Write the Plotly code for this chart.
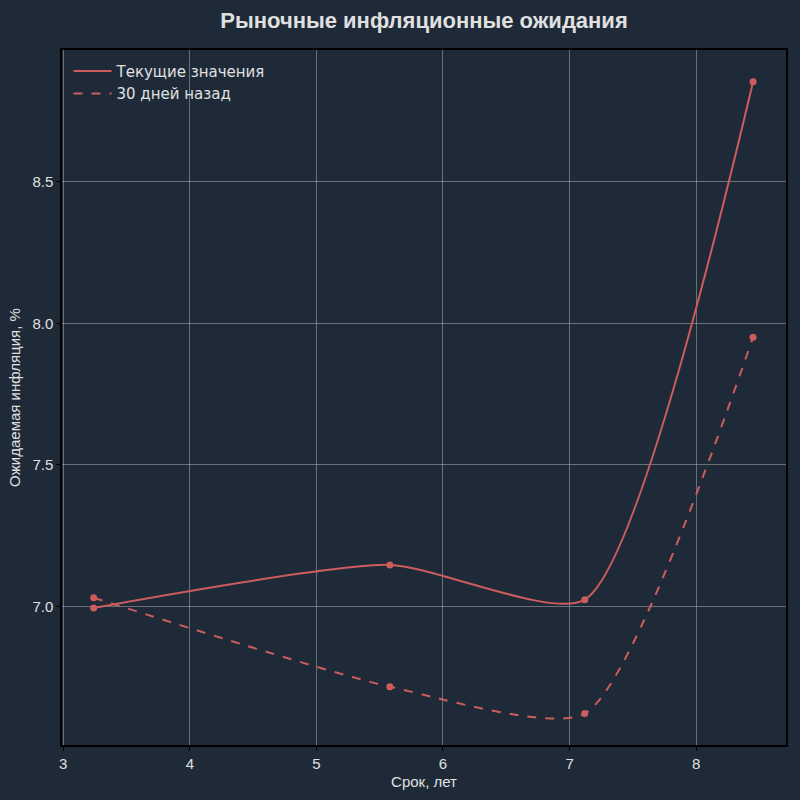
import plotly.graph_objects as go

terms = [3.24, 5.58, 7.12, 8.45]
current_vals = [6.995, 7.147, 7.024, 8.853]
past_vals = [7.031, 6.717, 6.622, 7.951]
series_names = ["Текущие значения", "30 дней назад"]

line_color = "#cd5c5c"
bg = "#1e2a38"
text_color = "#e0e0e0"

fig = go.Figure()
for vals, name, dash in [(current_vals, series_names[0], "solid"),
                         (past_vals, series_names[1], "dash")]:
    fig.add_trace(go.Scatter(
        x=terms, y=vals, name=name, mode="lines",
        line=dict(color=line_color, width=2, shape="spline", smoothing=0.6, dash=dash),
    ))
for vals in [current_vals, past_vals]:
    fig.add_trace(go.Scatter(
        x=terms, y=vals, mode="markers", showlegend=False, hoverinfo="skip",
        marker=dict(size=7, color=line_color),
    ))

axis_common = dict(
    showline=True, linecolor="#000000", linewidth=1.5, mirror=True,
    showgrid=True, gridcolor="rgba(160,160,160,0.6)", gridwidth=1,
    ticks="outside", ticklen=4, tickcolor="#000000",
    tickfont=dict(size=15, color=text_color), zeroline=False,
)

fig.update_layout(
    width=800, height=800,
    paper_bgcolor=bg, plot_bgcolor=bg,
    font=dict(family="Liberation Sans, Arial, sans-serif", color=text_color),
    title=dict(text="<b>Рыночные инфляционные ожидания</b>", x=0.5, xref="paper",
               xanchor="center", y=0.975, yanchor="middle",
               font=dict(size=22, color=text_color)),
    margin=dict(l=62, r=12, t=50, b=53),
    showlegend=True,
    legend=dict(x=0.009, y=0.993, xanchor="left", yanchor="top",
                bgcolor="rgba(0,0,0,0)", itemwidth=38,
                font=dict(family="DejaVu Sans", size=15, color=text_color),
                tracegroupgap=4),
    xaxis=dict(axis_common, range=[2.99, 8.71], tickvals=[3, 4, 5, 6, 7, 8],
               title=dict(text="Срок, лет", font=dict(size=15, color=text_color), standoff=6)),
    yaxis=dict(axis_common, range=[6.511, 8.965], tickvals=[7.0, 7.5, 8.0, 8.5],
               tickformat=".1f",
               title=dict(text="Ожидаемая инфляция, %", font=dict(size=15, color=text_color), standoff=8)),
)

fig.write_html("out.html")
